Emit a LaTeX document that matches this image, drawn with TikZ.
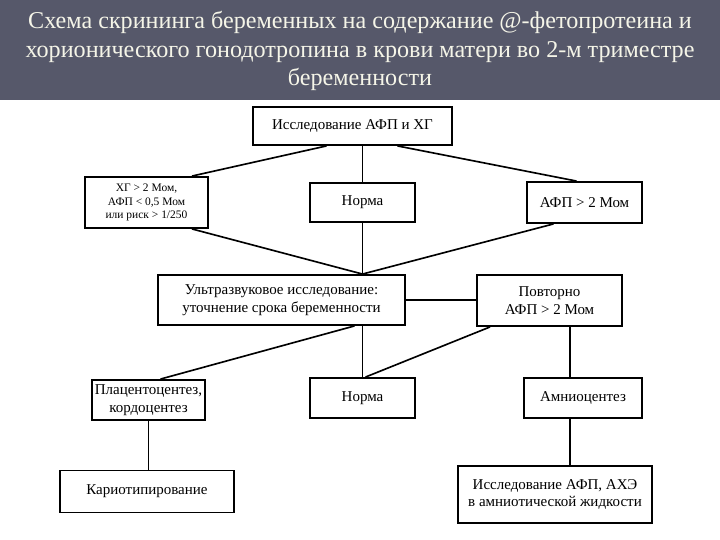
\documentclass[tikz,border=0pt]{standalone}
\usepackage{fontspec}
\setmainfont{Liberation Serif}
\definecolor{slidegray}{RGB}{86,88,106}
\definecolor{titlecream}{RGB}{245,245,232}
\usetikzlibrary{calc}

\begin{document}
\begin{tikzpicture}[x=0.03cm,y=-0.03cm,
  scrbox/.style={draw,fill=white,line width=1.6pt,align=center,
    font=\fontsize{12.8}{15.2}\selectfont,inner sep=2pt},
  scrline/.style={line width=1.4pt}
]
  \useasboundingbox (0,0) rectangle (720,540);

  % Title bar
  \fill[slidegray] (0,0) rectangle (720,100);
  \node[text=titlecream,align=center,font=\fontsize{20.6}{24.5}\selectfont] (title) at (360,51) {
    Схема скрининга беременных на содержание @-фетопротеина и\\
    хорионического гонодотропина в крови матери во 2-м триместре\\
    беременности};

  % Row 1
  \node[scrbox,minimum width=5.97cm,minimum height=1.14cm] (ihg) at (352.5,126) {Исследование АФП и ХГ};

  % Row 2
  \node[scrbox,minimum width=3.69cm,minimum height=1.53cm,font=\fontsize{9.8}{11.8}\selectfont] (lft) at (146.5,202.5) {
    ХГ > 2 Мом,\\ АФП < 0,5 Мом\\ или риск > 1/250};
  \node[scrbox,minimum width=3.15cm,minimum height=1.17cm] (nrm1) at (362.5,202.5) {Норма};
  \node[scrbox,minimum width=3.45cm,minimum height=1.23cm] (afp) at (584.5,202.5) {АФП > 2 Мом};

  % Row 3
  \node[scrbox,minimum width=7.41cm,minimum height=1.5cm] (uzi) at (281.5,300) {
    Ультразвуковое исследование:\\ уточнение срока беременности};
  \node[scrbox,minimum width=4.35cm,minimum height=1.53cm] (pov) at (549.5,300.5) {
    Повторно\\ АФП > 2 Мом};

  % Row 4
  \node[scrbox,minimum width=3.39cm,minimum height=1.2cm] (plc) at (148.5,400) {
    Плацентоцентез,\\ кордоцентез};
  \node[scrbox,minimum width=3.15cm,minimum height=1.2cm] (nrm2) at (362.5,398) {Норма};
  \node[scrbox,minimum width=3.54cm,minimum height=1.2cm] (amn) at (583,398) {Амниоцентез};

  % Row 5
  \node[scrbox,minimum width=5.22cm,minimum height=1.26cm] (kar) at (147,491.5) {Кариотипирование};
  \node[scrbox,minimum width=5.82cm,minimum height=1.71cm] (aks) at (555,494.5) {
    Исследование АФП, АХЭ\\ в амниотической жидкости};

  % Connectors
  \draw[scrline] ($(ihg.south)+(-26,0)$) -- ($(lft.north east)+(-17,0)$);
  \draw[scrline] (ihg.south -| nrm1.north) -- (nrm1.north);
  \draw[scrline] ($(ihg.south)+(45,0)$) -- ($(afp.north)+(-8,0)$);
  \draw[scrline] ($(lft.south east)+(-17,0)$) -- (uzi.north -| nrm1.south);
  \draw[scrline] (nrm1.south) -- (uzi.north -| nrm1.south);
  \draw[scrline] ($(afp.south)+(-31,0)$) -- (uzi.north -| nrm1.south);
  \draw[scrline] (uzi.east) -- (uzi.east -| pov.west);
  \draw[scrline] ($(uzi.south -| nrm2.north)+(-8,0)$) -- ($(plc.north)+(12,0)$);
  \draw[scrline] (uzi.south -| nrm2.north) -- (nrm2.north);
  \draw[scrline] ($(pov.south west)+(14,0)$) -- ($(nrm2.north)+(3,0)$);
  \draw[scrline] ($(pov.south)+(20.5,0)$) -- ($(amn.north)+(-13,0)$);
  \draw[scrline] (plc.south) -- (plc.south |- kar.north);
  \draw[scrline] ($(amn.south)+(-13,0)$) -- ($(aks.north)+(15,0)$);
\end{tikzpicture}
\end{document}
